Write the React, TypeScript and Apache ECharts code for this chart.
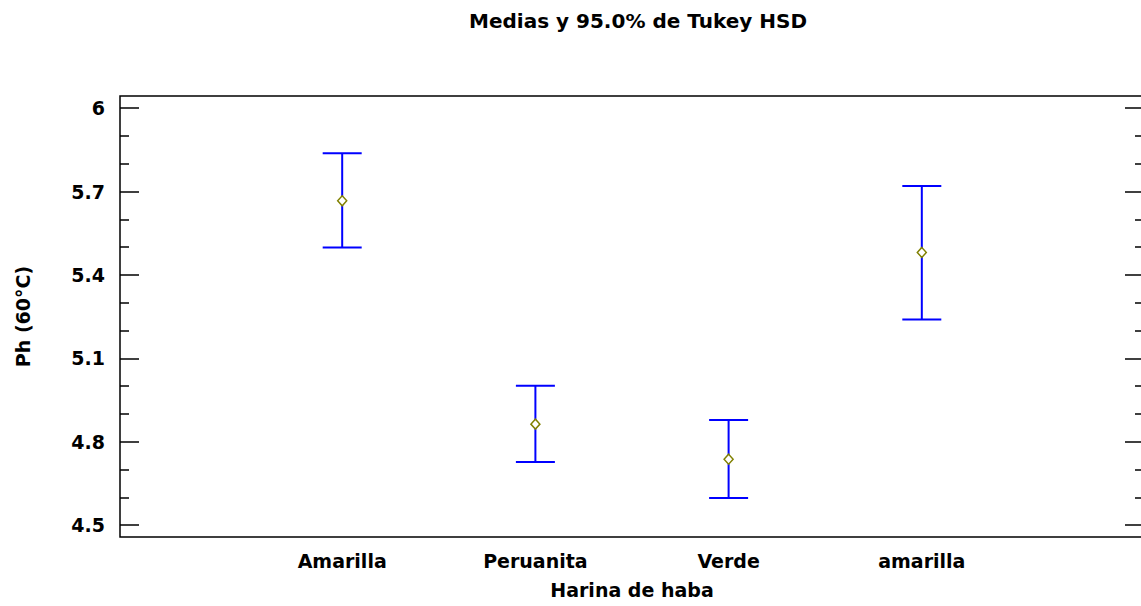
import React, { useEffect, useRef } from "react";
import * as echarts from "echarts";

const categories = ["Amarilla", "Peruanita", "Verde", "amarilla"];
const positions = [1, 2, 3, 4];
const means = [5.667, 4.863, 4.737, 5.481];
const lowerLimits = [5.499, 4.727, 4.597, 5.240];
const upperLimits = [5.838, 5.001, 4.878, 5.720];
const yMajorTicks = [4.5, 4.8, 5.1, 5.4, 5.7, 6.0];
const yTickLabels = ["4.5", "4.8", "5.1", "5.4", "5.7", "6"];
const yMinorTicks = [4.6, 4.7, 4.9, 5.0, 5.2, 5.3, 5.5, 5.6, 5.8, 5.9];

const FONT = "'DejaVu Sans', 'Liberation Sans', Arial, sans-serif";
const Y_MIN = 4.457;
const Y_MAX = 6.044;

export default function App() {
  const ref = useRef<HTMLDivElement>(null);

  useEffect(() => {
    if (!ref.current) return;
    const chart = echarts.init(ref.current, undefined, { renderer: "svg" });

    const textStyle = { fontFamily: FONT, fontWeight: "bold" as const, fontSize: 19, color: "#000" };

    const yBase = {
      type: "value" as const,
      min: Y_MIN,
      max: Y_MAX,
      offset: 0,
      axisLine: { show: false },
      splitLine: { show: false },
    };

    const tickAxis = (position: "left" | "right", values: number[], length: number) => ({
      ...yBase,
      position,
      axisTick: {
        show: true,
        inside: true,
        length,
        customValues: values,
        lineStyle: { color: "#000", width: 1.5 },
      },
      axisLabel: { show: false },
    });

    const option: any = {
      animation: false,
      backgroundColor: "#fff",
      title: {
        text: "Medias y 95.0% de Tukey HSD",
        left: 633,
        top: 6,
        textAlign: "center",
        textStyle: { ...textStyle, fontSize: 20 },
      },
      grid: {
        left: 120,
        top: 96,
        width: 1024,
        height: 441,
        outerBoundsMode: "none",
        containLabel: false,
        show: true,
        borderColor: "#000",
        borderWidth: 1.5,
        backgroundColor: "transparent",
      },
      xAxis: {
        type: "value",
        min: -0.15,
        max: 5.15,
        axisLine: { show: false },
        splitLine: { show: false },
        axisTick: { show: false },
        axisLabel: {
          customValues: positions,
          formatter: (v: number) => categories[Math.round(v) - 1] ?? "",
          margin: 14,
          ...textStyle,
        },
        name: "Harina de haba",
        nameLocation: "middle",
        nameGap: 43,
        nameTextStyle: { ...textStyle },
      },
      yAxis: [
        {
          ...yBase,
          position: "left",
          axisTick: { show: false },
          axisLabel: {
            customValues: yMajorTicks,
            formatter: (v: number) => {
              const i = yMajorTicks.findIndex((t) => Math.abs(t - v) < 1e-6);
              return i >= 0 ? yTickLabels[i] : "";
            },
            margin: 15,
            ...textStyle,
          },
          name: "Ph (60°C)",
          nameLocation: "middle",
          nameRotate: 90,
          nameGap: 88,
          nameTextStyle: { ...textStyle },
        },
        tickAxis("left", yMajorTicks, 19),
        tickAxis("left", yMinorTicks, 9),
        tickAxis("right", yMajorTicks, 19),
        tickAxis("right", yMinorTicks, 9),
      ],
      series: [
        {
          type: "custom",
          name: "Intervalo HSD",
          xAxisIndex: 0,
          yAxisIndex: 0,
          data: positions.map((p, i) => [p, lowerLimits[i], upperLimits[i]]),
          renderItem: (params: any, api: any) => {
            const x = api.value(0);
            const lo = api.coord([x, api.value(1)]);
            const hi = api.coord([x, api.value(2)]);
            const half = 19.5;
            const style = { stroke: "#0000ff", lineWidth: 2 };
            return {
              type: "group",
              children: [
                { type: "line", shape: { x1: lo[0], y1: lo[1], x2: hi[0], y2: hi[1] }, style },
                { type: "line", shape: { x1: hi[0] - half, y1: hi[1], x2: hi[0] + half, y2: hi[1] }, style },
                { type: "line", shape: { x1: lo[0] - half, y1: lo[1], x2: lo[0] + half, y2: lo[1] }, style },
              ],
            };
          },
          z: 2,
        },
        {
          type: "scatter",
          name: "Media",
          xAxisIndex: 0,
          yAxisIndex: 0,
          data: positions.map((p, i) => [p, means[i]]),
          symbol: "diamond",
          symbolSize: [9, 10],
          itemStyle: { color: "#ffffff", borderColor: "#808000", borderWidth: 1.5, opacity: 1 },
          z: 3,
        },
      ],
    };

    chart.setOption(option);
    return () => chart.dispose();
  }, []);

  return (
    <div
      ref={ref}
      style={{ position: "fixed", left: 0, top: 0, width: 1141, height: 606, overflow: "hidden" }}
    />
  );
}
